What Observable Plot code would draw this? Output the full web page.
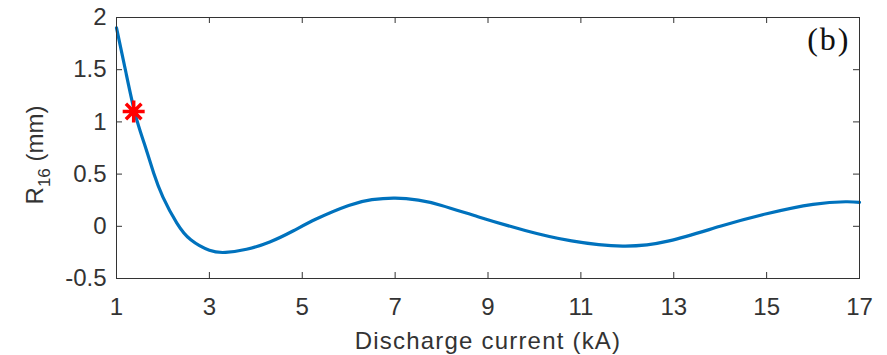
<!DOCTYPE html>
<html><head><meta charset="utf-8">
<script src="https://cdn.jsdelivr.net/npm/d3@7"></script>
<script src="https://cdn.jsdelivr.net/npm/@observablehq/plot@0.6"></script>
<style>body{margin:0;background:#fff} svg{display:block}</style>
</head><body><div id="chart"></div>
<script>
// Data
const current = [1, 1.2, 1.4, 1.6, 1.8, 2.0, 2.3, 2.6, 3.0, 3.35, 3.8, 4.3, 4.8, 5.3, 6.0, 6.5, 7.0, 7.5, 8.0, 8.8, 9.8, 10.8, 11.9, 12.9, 14.0, 15.0, 16.0, 16.7, 17];
const radius  = [1.90, 1.48, 1.08, 0.79, 0.51, 0.28, 0.03, -0.13, -0.23, -0.25, -0.22, -0.15, -0.045, 0.07, 0.20, 0.255, 0.27, 0.25, 0.20, 0.09, -0.04, -0.14, -0.19, -0.14, 0.00, 0.12, 0.21, 0.235, 0.23];
const markerCurrent = [1.37];
const markerRadius = [1.10];
const xTicks = [1, 3, 5, 7, 9, 11, 13, 15, 17];
const yTicks = [-0.5, 0, 0.5, 1, 1.5, 2];
const xLabel = "Discharge current (kA)";
const yLabel = "R16 (mm)";
const panelLabel = "(b)";

const W = 887, H = 355, mL = 116, mR = 28, mT = 17, mB = 77;
const innerW = W - mL - mR, innerH = H - mT - mB;
const ink = "#333";

const curveData = current.map((x, i) => ({x, y: radius[i]}));
const markerData = markerCurrent.map((x, i) => ({x, y: markerRadius[i]}));

const asterisk = {
  draw(ctx, size) {
    const r = Math.sqrt(size / Math.PI);
    for (let i = 0; i < 4; i++) {
      const a = i * Math.PI / 4;
      const dx = r * Math.cos(a), dy = r * Math.sin(a);
      ctx.moveTo(-dx, -dy); ctx.lineTo(dx, dy);
    }
  }
};

const plot = Plot.plot({
  width: W, height: H,
  marginLeft: mL, marginRight: mR, marginTop: mT, marginBottom: mB,
  style: {fontFamily: "'Liberation Sans', Arial, Helvetica, sans-serif", background: "white"},
  x: {domain: [1, 17]},
  y: {domain: [-0.5, 2]},
  marks: [
    Plot.axisX({ticks: xTicks, tickSize: 0, tickPadding: 19, fontSize: 24, color: ink, label: null, tickFormat: d => String(d)}),
    Plot.axisY({ticks: yTicks, tickSize: 0, tickPadding: 10, fontSize: 24, color: ink, label: null, tickFormat: d => String(d)}),
    Plot.tickX(xTicks, {x: d => d, stroke: ink, insetTop: innerH - 6}),
    Plot.tickX(xTicks, {x: d => d, stroke: ink, insetBottom: innerH - 6}),
    Plot.tickY(yTicks, {y: d => d, stroke: ink, insetRight: innerW - 6}),
    Plot.tickY(yTicks, {y: d => d, stroke: ink, insetLeft: innerW - 6}),
    Plot.line(curveData, {x: "x", y: "y", stroke: "#0072BD", strokeWidth: 3.2, curve: "natural"}),
    Plot.dot(markerData, {x: "x", y: "y", symbol: asterisk, r: 11, stroke: "#ff0000", strokeWidth: 3.5, fill: "none"}),
    Plot.frame({stroke: ink}),
    Plot.text([xLabel], {text: d => d, frameAnchor: "bottom", dy: 53, lineAnchor: "top", fontSize: 24, fill: ink}),
    Plot.text([yLabel], {text: d => d, frameAnchor: "left", rotate: -90, dx: -81, dy: 7, lineAnchor: "middle", textAnchor: "middle", fontSize: 24, fill: ink}),
    Plot.text([panelLabel], {text: d => d, frameAnchor: "top-right", dx: -9, dy: 10, lineAnchor: "top", textAnchor: "end", fontSize: 32, fill: "#111", fontFamily: "'Liberation Serif', 'Times New Roman', serif"})
  ]
});

const svg = d3.select(plot);
svg.selectAll("text").each(function() {
  const t = this.textContent;
  if (t === xLabel) d3.select(this).style("letter-spacing", "1.2px");
  if (t === panelLabel) d3.select(this).style("letter-spacing", "2px");
  if (t === yLabel) {
    const el = d3.select(this);
    el.text(null);
    el.append("tspan").text("R");
    el.append("tspan").attr("font-size", 17).attr("dy", 7).text("16");
    el.append("tspan").attr("dy", -7).text(" (mm)");
  }
});

document.getElementById("chart").appendChild(plot);
</script>
</body></html>
